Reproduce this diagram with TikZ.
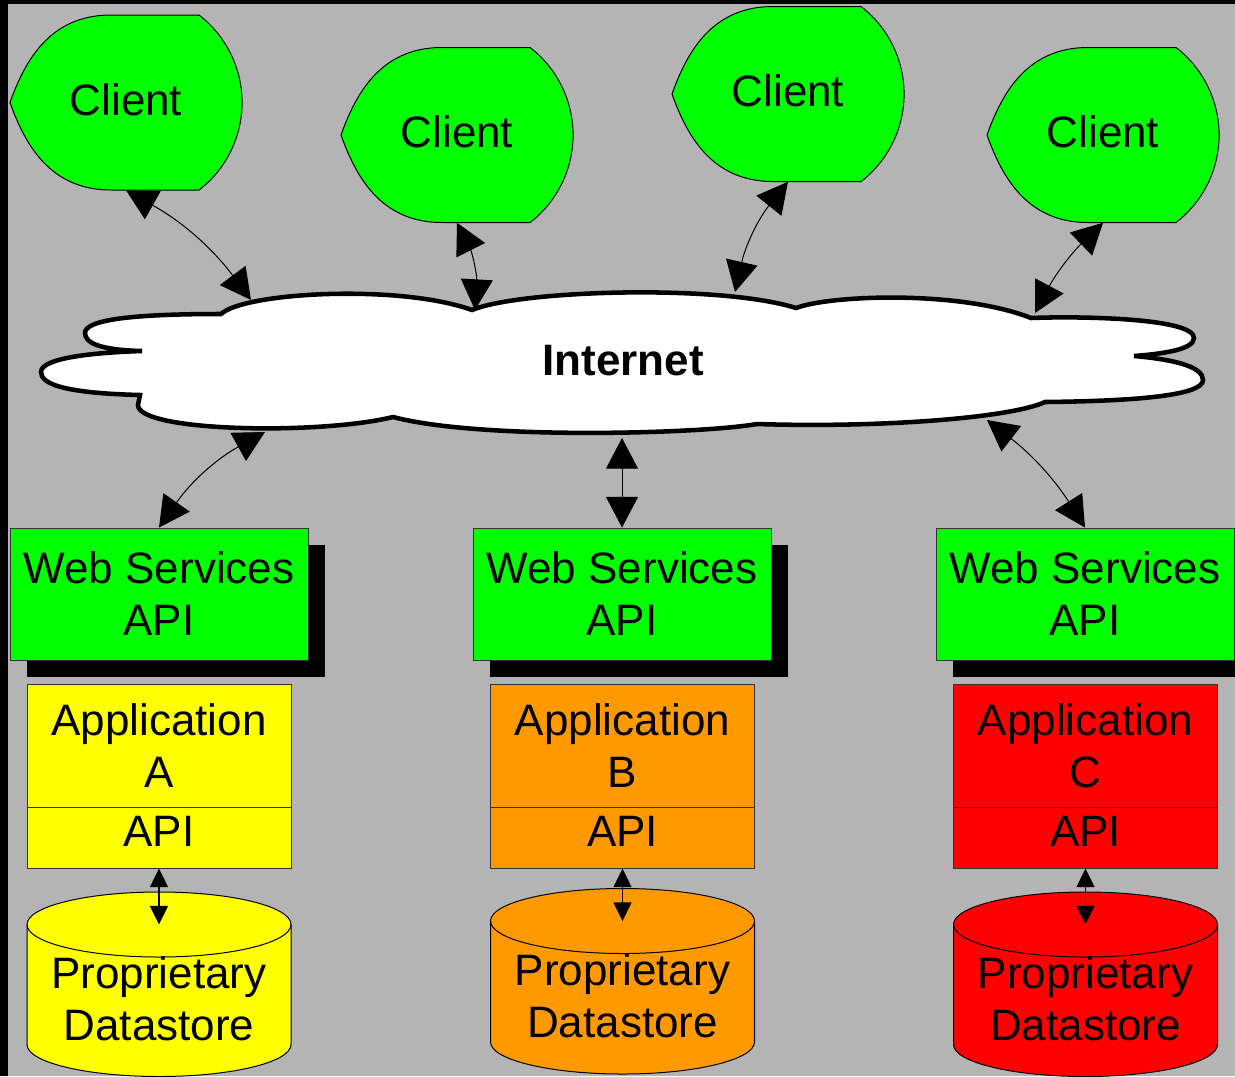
\documentclass[tikz,border=0pt]{standalone}
\usepackage{fontspec}
\setmainfont{Liberation Sans}
\usetikzlibrary{arrows.meta,shadows}
\definecolor{bggray}{HTML}{B4B4B4}
\definecolor{cgreen}{HTML}{00FF00}
\definecolor{cyellow}{HTML}{FFFF00}
\definecolor{corange}{HTML}{FF9900}
\definecolor{cred}{HTML}{FF0000}
\definecolor{edgegray}{HTML}{333333}
\newcommand\bigfont{\fontsize{33}{39}\selectfont}
\newcommand\clientshape[1]{%
  \filldraw[clientfill, shift={(#1.center)}] (-15,87.5) -- (73,87.5)
    arc[start angle=52.4,end angle=-52.4,radius=110.5] -- (-15,-87.5)
    .. controls (-76,-87.5) and (-101,-42) .. (-116,0)
    .. controls (-101,42) and (-76,87.5) .. (-15,87.5) -- cycle;}
\newcommand\datastore[4]{%
  \filldraw[fill=#4, draw=black, line width=0.75pt] (#1-132,#2) -- (#1-132,#3)
    arc[start angle=180,end angle=360,x radius=132,y radius=32] -- (#1+132,#2)
    arc[start angle=0,end angle=180,x radius=132,y radius=32.5] -- cycle;
  \draw[line width=0.75pt] (#1-132,#2) arc[start angle=180,end angle=360,x radius=132,y radius=32.5];}
\tikzset{
  clientfill/.style={fill=cgreen, draw=black, line width=0.75pt},
  clientnode/.style={minimum width=174pt, minimum height=131.25pt, inner sep=0pt},
  clienttext/.style={font=\bigfont, inner sep=0pt, text depth=4.5pt},
  cloudline/.style={fill=white, draw=black, line width=3.4pt, line join=miter, miter limit=3},
  wsbox/.style={draw=edgegray, line width=0.75pt, fill=cgreen, minimum width=223.5pt,
    minimum height=99pt, align=center, inner sep=0pt, font=\bigfont,
    general shadow={fill=black, shadow xshift=12.75pt, shadow yshift=-12.75pt}},
  appbox/.style={draw=edgegray, line width=0.75pt, minimum width=198pt,
    minimum height=92.25pt, align=center, inner sep=0pt, font=\bigfont},
  apibox/.style={draw=edgegray, line width=0.75pt, minimum width=198pt,
    minimum height=45.75pt, inner sep=0pt, font=\bigfont, text depth=9pt},
  dstext/.style={align=center, inner sep=0pt, font=\bigfont},
  bigarrow/.style={line width=0.75pt,
    arrows={Triangle[length=23pt,width=24pt]-Triangle[length=23pt,width=24pt]}},
  smallarrow/.style={line width=1pt,
    arrows={Triangle[length=14pt,width=13.5pt]-Triangle[length=14pt,width=13.5pt]}}
}
\begin{document}
\begin{tikzpicture}[x=0.75pt,y=0.75pt]
\useasboundingbox (0,0) rectangle (1235,-1076);
% background
\fill[bggray] (0,0) rectangle (1235,-1076);
\fill[black] (0,0) rectangle (1235,-4);
\fill[black] (0,0) rectangle (8,-1076);

% clients
\node[clientnode] (c1) at (126,-102.5) {};
\node[clientnode] (c2) at (457,-135) {};
\node[clientnode] (c3) at (788,-94) {};
\node[clientnode] (c4) at (1103,-135) {};
\clientshape{c1}\clientshape{c2}\clientshape{c3}\clientshape{c4}
\node[clienttext] (c1t) at (c1.center) {Client};
\node[clienttext] (c2t) at (c2.center) {Client};
\node[clienttext] (c3t) at (c3.center) {Client};
\node[clienttext] (c4t) at (c4.center) {Client};

% cloud
\draw[cloudline] (221,-314)
 .. controls (245,-292) and (400,-284) .. (472,-310)
 .. controls (520,-290) and (720,-284) .. (796,-308)
 .. controls (830,-295) and (960,-290) .. (1031,-318)
 .. controls (1080,-316) and (1194,-318) .. (1194,-338)
 .. controls (1194,-350) and (1160,-354) .. (1134,-356)
 .. controls (1180,-360) and (1203,-368) .. (1203,-380)
 .. controls (1203,-395) and (1140,-401) .. (1045,-402)
 .. controls (1010,-418) and (880,-428) .. (757,-424)
 .. controls (700,-434) and (480,-440) .. (393,-417)
 .. controls (320,-435) and (138,-432) .. (138,-405)
 -- (140,-395)
 .. controls (60,-393) and (41,-383) .. (41,-372)
 .. controls (41,-360) and (80,-353) .. (142,-351)
 .. controls (100,-350) and (85,-343) .. (85,-333)
 .. controls (85,-320) and (130,-314) .. (221,-314) -- cycle;
\node[font=\bigfont\bfseries, inner sep=0pt] (inet) at (623,-361) {Internet};
\coordinate (k1) at (251,-300);
\coordinate (k2) at (475,-310);
\coordinate (k3) at (735,-292);
\coordinate (k4) at (1035,-313);
\coordinate (k5) at (265,-432);
\coordinate (k6) at (622,-438);
\coordinate (k7) at (987,-420);

% web services
\node[wsbox] (wsA) at (159,-594) {Web Services\\API};
\node[wsbox] (wsB) at (622,-594) {Web Services\\API};
\node[wsbox] (wsC) at (1085,-594) {Web Services\\API};

% applications
\node[appbox, fill=cyellow] (appA) at (159,-745.5) {Application\\A};
\node[apibox, fill=cyellow] (apiA) at (159,-837.5) {API};
\node[appbox, fill=corange] (appB) at (622.5,-745.5) {Application\\B};
\node[apibox, fill=corange] (apiB) at (622.5,-837.5) {API};
\node[appbox, fill=cred] (appC) at (1085.5,-745.5) {Application\\C};
\node[apibox, fill=cred] (apiC) at (1085.5,-837.5) {API};

% datastores
\datastore{159}{-924.5}{-1044.5}{cyellow}
\datastore{622.5}{-921}{-1042}{corange}
\datastore{1085.5}{-924.5}{-1044.5}{cred}
\node[dstext] (dsA) at (159,-999) {Proprietary\\Datastore};
\node[dstext] (dsB) at (622.5,-996) {Proprietary\\Datastore};
\node[dstext] (dsC) at (1085.5,-999) {Proprietary\\Datastore};
\coordinate (dsAtop) at (159,-924.5);
\coordinate (dsBtop) at (622.5,-921);
\coordinate (dsCtop) at (1085.5,-924.5);

% connectors
\draw[bigarrow] (c1.south) to[bend left=12] (k1);
\draw[bigarrow] (c2.south) to[bend left=15] (k2);
\draw[bigarrow] (c3.south) to[bend right=13] (k3);
\draw[bigarrow] (c4.south) to[bend right=9] (k4);
\draw[bigarrow] (k5) to[bend right=13] (wsA.north);
\draw[bigarrow] (k6) -- (wsB.north);
\draw[bigarrow] (k7) to[bend left=10] (wsC.north);
\draw[smallarrow] (apiA.south) -- (dsAtop);
\draw[smallarrow] (apiB.south) -- (dsBtop);
\draw[smallarrow] (apiC.south) -- (dsCtop);
\end{tikzpicture}
\end{document}
